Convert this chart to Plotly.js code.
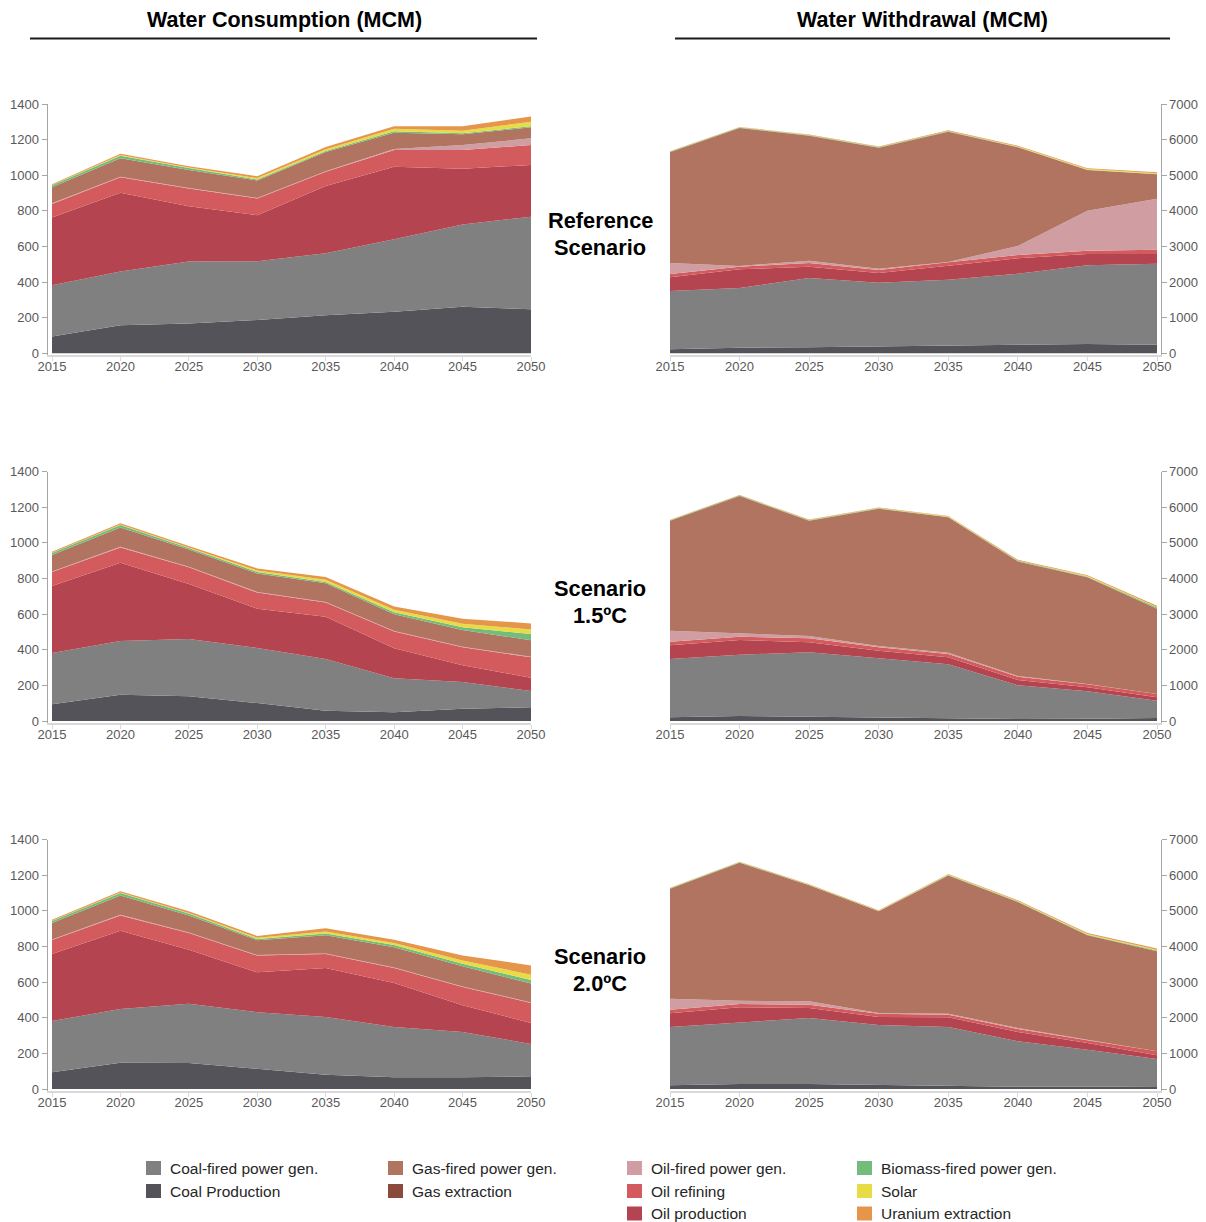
<!DOCTYPE html>
<html>
<head>
<meta charset="utf-8">
<script src="https://cdn.plot.ly/plotly-3.0.1.min.js"></script>
<style>html,body{margin:0;padding:0;background:#fff;} #chart{width:1206px;height:1222px;}</style>
</head>
<body>
<div id="chart"></div>
<script>
// ---------- DATA ----------
const years = [2015, 2020, 2025, 2030, 2035, 2040, 2045, 2050];

// Stack order (bottom -> top)
const seriesNames = ['Coal Production', 'Coal-fired power gen.', 'Oil production', 'Oil refining',
  'Oil-fired power gen.', 'Gas extraction', 'Gas-fired power gen.', 'Biomass-fired power gen.',
  'Solar', 'Uranium extraction'];
const seriesColors = ['#545359', '#808080', '#b4444f', '#d35b5d', '#d09ea2', '#8a4b3d',
  '#b07461', '#73bc7c', '#e7dc45', '#e5964a'];

// Water consumption (MCM) - Reference scenario, rows follow seriesNames
const consRef = [
  [94, 157, 168, 187, 213, 234, 262, 247],
  [288, 302, 347, 330, 349, 406, 462, 520],
  [380, 443, 311, 258, 378, 408, 313, 291],
  [77, 86, 99, 94, 80, 94, 105, 112],
  [3, 3, 3, 3, 3, 5, 28, 37],
  [0, 0, 0, 0, 0, 0, 0, 0],
  [90, 104, 102, 98, 108, 92, 60, 62],
  [12, 15, 10, 6, 5, 8, 6, 6],
  [1, 3, 4, 8, 10, 14, 14, 25],
  [5, 7, 7, 10, 12, 14, 25, 30]
];
// Water withdrawal (MCM) - Reference scenario
const wdRef = [
  [112, 159, 168, 187, 206, 225, 262, 243],
  [1638, 1675, 1947, 1797, 1862, 2012, 2208, 2274],
  [384, 524, 318, 271, 393, 430, 319, 272],
  [93, 75, 103, 85, 94, 94, 93, 121],
  [309, 19, 65, 37, 10, 252, 1123, 1432],
  [0, 0, 0, 0, 0, 0, 0, 0],
  [3107, 3874, 3510, 3397, 3659, 2770, 1142, 683],
  [15, 15, 12, 10, 8, 10, 10, 10],
  [2, 3, 5, 8, 10, 12, 15, 20],
  [10, 12, 14, 15, 18, 20, 25, 30]
];
// Water consumption (MCM) - Scenario 1.5ºC
const cons15 = [
  [94, 148, 139, 101, 58, 49, 69, 77],
  [288, 301, 321, 309, 290, 191, 150, 91],
  [376, 440, 309, 221, 238, 168, 94, 75],
  [79, 86, 94, 90, 79, 94, 101, 115],
  [3, 3, 3, 3, 3, 3, 3, 3],
  [0, 0, 0, 0, 0, 0, 0, 0],
  [92, 108, 97, 105, 105, 94, 94, 92],
  [12, 14, 8, 8, 8, 12, 15, 35],
  [1, 3, 4, 8, 12, 14, 20, 26],
  [5, 7, 8, 12, 15, 18, 28, 34]
];
// Water withdrawal (MCM) - Scenario 1.5ºC
const wd15 = [
  [103, 140, 122, 103, 66, 56, 66, 84],
  [1638, 1722, 1806, 1647, 1525, 945, 767, 487],
  [383, 412, 280, 225, 196, 150, 112, 93],
  [103, 94, 113, 93, 94, 94, 84, 94],
  [309, 93, 65, 37, 37, 18, 10, 3],
  [0, 0, 0, 0, 0, 0, 0, 0],
  [3088, 3856, 3238, 3856, 3800, 3219, 2994, 2393],
  [15, 15, 12, 10, 12, 15, 20, 30],
  [2, 3, 5, 8, 10, 12, 15, 20],
  [10, 12, 14, 15, 18, 20, 25, 35]
];
// Water consumption (MCM) - Scenario 2.0ºC
const cons20 = [
  [94, 148, 146, 114, 80, 66, 66, 71],
  [288, 301, 333, 317, 324, 282, 254, 182],
  [376, 440, 303, 224, 275, 247, 150, 118],
  [79, 86, 94, 94, 79, 84, 103, 112],
  [3, 3, 3, 3, 3, 3, 3, 3],
  [0, 0, 0, 0, 0, 0, 0, 0],
  [92, 108, 96, 83, 102, 114, 113, 106],
  [12, 14, 10, 8, 10, 12, 15, 20],
  [1, 3, 4, 6, 12, 12, 18, 30],
  [5, 7, 9, 10, 18, 18, 28, 52]
];
// Water withdrawal (MCM) - Scenario 2.0ºC
const wd20 = [
  [103, 140, 140, 112, 84, 66, 66, 75],
  [1638, 1732, 1853, 1685, 1657, 1272, 1038, 767],
  [383, 421, 281, 224, 271, 262, 187, 103],
  [103, 93, 94, 94, 75, 84, 75, 112],
  [309, 94, 93, 19, 28, 28, 19, 0],
  [0, 0, 0, 0, 0, 0, 0, 0],
  [3088, 3874, 3257, 2854, 3883, 3538, 2929, 2808],
  [15, 15, 12, 10, 12, 15, 20, 25],
  [2, 3, 5, 8, 10, 12, 15, 20],
  [10, 12, 14, 15, 18, 22, 28, 35]
];

const columnTitles = ['Water Consumption (MCM)', 'Water Withdrawal (MCM)'];
const scenarioLabels = [['Reference', 'Scenario'], ['Scenario', '1.5ºC'], ['Scenario', '2.0ºC']];
const consTicks = [0, 200, 400, 600, 800, 1000, 1200, 1400];
const wdTicks = [0, 1000, 2000, 3000, 4000, 5000, 6000, 7000];
// legend columns (indices into seriesNames)
const legendColumns = [[1, 0], [6, 5], [4, 3, 2], [7, 8, 9]];

// ---------- LAYOUT ----------
const W = 1206, H = 1222;
const px = x => x / W;
const py = y => 1 - y / H;
const FONT = 'Liberation Sans, Arial, sans-serif';

const panels = [
  {data: consRef, col: 0, row: 0},
  {data: wdRef, col: 1, row: 0},
  {data: cons15, col: 0, row: 1},
  {data: wd15, col: 1, row: 1},
  {data: cons20, col: 0, row: 2},
  {data: wd20, col: 1, row: 2}
];
// pixel geometry of each row: top value line and zero line
const rowTop = [104, 471.7, 839.7];
const rowZero = [353.3, 721, 1089];

const traces = [];
const layout = {
  width: W, height: H,
  margin: {l: 0, r: 0, t: 0, b: 0},
  paper_bgcolor: '#ffffff', plot_bgcolor: 'rgba(0,0,0,0)',
  showlegend: false,
  font: {family: FONT, color: '#595959'},
  annotations: [], shapes: []
};

panels.forEach((p, k) => {
  const n = k + 1;
  const xa = n === 1 ? 'x' : 'x' + n;
  const ya = n === 1 ? 'y' : 'y' + n;
  p.data.forEach((vals, i) => {
    traces.push({
      x: years, y: vals, name: seriesNames[i],
      xaxis: xa, yaxis: ya, stackgroup: 'g' + n,
      mode: 'lines', line: {width: 0, color: seriesColors[i]},
      fillcolor: seriesColors[i], showlegend: false, hoverinfo: 'x+y+name'
    });
  });
  const isCons = p.col === 0;
  const top = rowTop[p.row], zero = rowZero[p.row];
  const bottom = zero + 2;
  const maxV = isCons ? 1400 : 7000;
  const pxPerUnit = (zero - top) / maxV;
  const yMin = -(bottom - zero) / pxPerUnit;
  // x geometry
  let x0px, x2015, x2050, x1px;
  if (isCons) { x2015 = 52; x2050 = 531; x0px = 47.5; x1px = 531; }
  else { x2015 = 670; x2050 = 1157; x0px = 670; x1px = 1160.5; }
  const pxPerYear = (x2050 - x2015) / 35;
  const xr0 = 2015 - (x2015 - x0px) / pxPerYear;
  const xr1 = 2050 + (x1px - x2050) / pxPerYear;

  layout['xaxis' + (n === 1 ? '' : n)] = {
    domain: [px(x0px), px(x1px)], range: [xr0, xr1], anchor: ya,
    tickmode: 'array', tickvals: years, ticktext: years.map(String),
    showline: true, linecolor: '#d9d9d9', linewidth: 2,
    ticks: 'outside', ticklen: 4, tickcolor: '#d9d9d9', tickwidth: 1,
    ticklabelstandoff: -6,
    showgrid: false, zeroline: false, fixedrange: true,
    tickfont: {family: FONT, size: 13, color: '#595959'}
  };
  layout['yaxis' + (n === 1 ? '' : n)] = {
    domain: [py(bottom), py(top)], range: [yMin, maxV], anchor: xa,
    side: isCons ? 'left' : 'right',
    tickmode: 'array', tickvals: isCons ? consTicks : wdTicks,
    showline: true, linecolor: '#a6a6a6', linewidth: 1,
    ticks: 'outside', ticklen: 5, tickcolor: '#a6a6a6', tickwidth: 1,
    showgrid: false, zeroline: false, fixedrange: true,
    tickfont: {family: FONT, size: 13, color: '#595959'}
  };
});

// column titles + underlines
const titleX = [284, 922];
const underline = [[30, 537], [675, 1170]];
columnTitles.forEach((t, i) => {
  layout.annotations.push({
    text: '<b>' + t + '</b>', xref: 'paper', yref: 'paper',
    x: px(titleX[i]), y: py(20), xanchor: 'center', yanchor: 'middle',
    showarrow: false, font: {family: FONT, size: 21.5, color: '#000000'}
  });
  layout.shapes.push({
    type: 'line', xref: 'paper', yref: 'paper',
    x0: px(underline[i][0]), x1: px(underline[i][1]), y0: py(38.5), y1: py(38.5),
    line: {color: '#1a1a1a', width: 2}
  });
});

// scenario labels
const scenY = [[220, 247], [588, 615], [956, 983]];
scenarioLabels.forEach((lines, r) => {
  lines.forEach((t, j) => {
    layout.annotations.push({
      text: '<b>' + t + '</b>', xref: 'paper', yref: 'paper',
      x: px(600), y: py(scenY[r][j]), xanchor: 'center', yanchor: 'middle',
      showarrow: false, font: {family: FONT, size: 21.8, color: '#000000'}
    });
  });
});

// legend (custom, 4 columns)
const legX = [146, 388, 627, 857];
const legY = [1168, 1191, 1213.5];
legendColumns.forEach((col, c) => {
  col.forEach((si, r) => {
    const cx = legX[c], cy = legY[r];
    layout.shapes.push({
      type: 'rect', xref: 'paper', yref: 'paper',
      x0: px(cx), x1: px(cx + 15), y0: py(cy - 7), y1: py(cy + 7),
      fillcolor: seriesColors[si], line: {width: 0}
    });
    layout.annotations.push({
      text: seriesNames[si], xref: 'paper', yref: 'paper',
      x: px(cx + 22), y: py(cy), xanchor: 'left', yanchor: 'middle',
      showarrow: false, font: {family: FONT, size: 15.5, color: '#262626'}
    });
  });
});

Plotly.newPlot('chart', traces, layout, {displayModeBar: false, staticPlot: true});
</script>
</body>
</html>
